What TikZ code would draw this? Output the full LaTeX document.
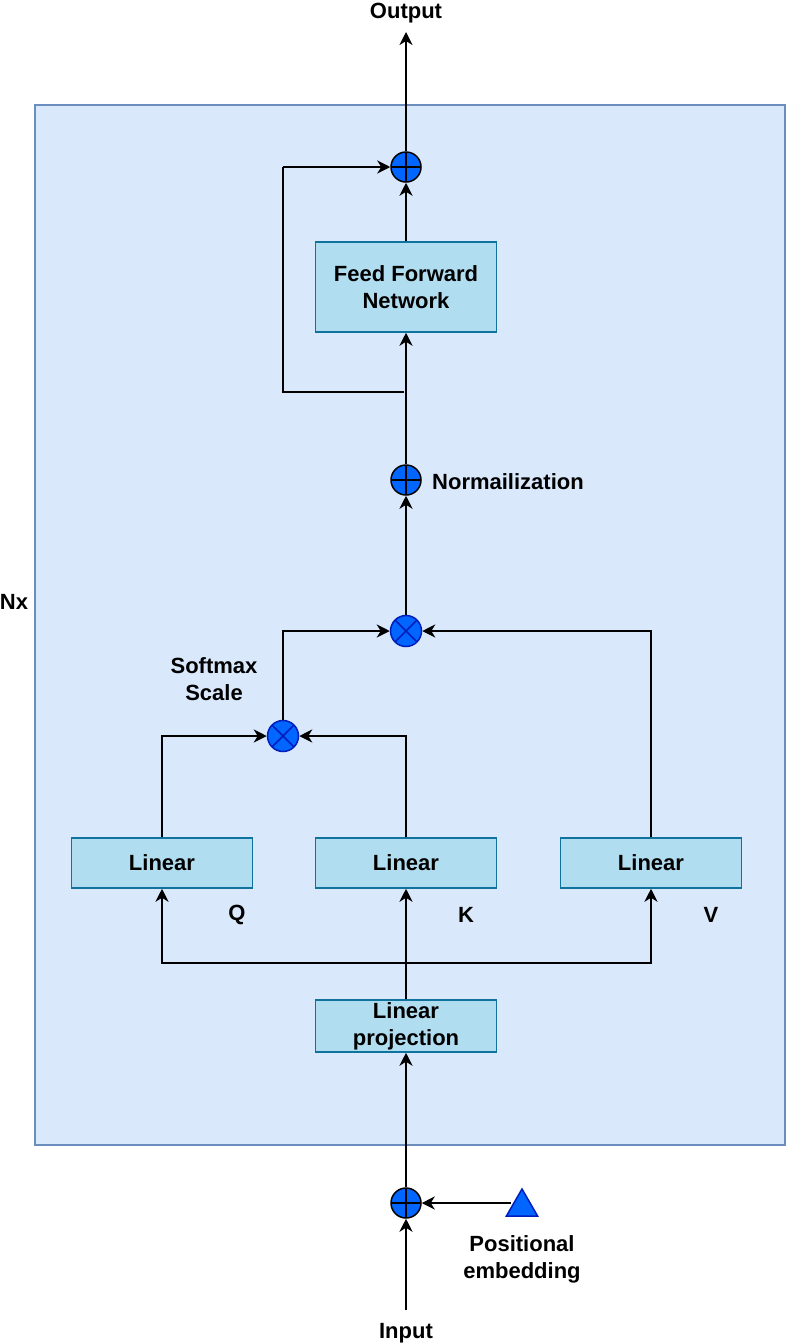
\documentclass[tikz,border=0pt]{standalone}
\usepackage{fontspec}
\setmainfont{Liberation Sans}
\usetikzlibrary{arrows.meta,shapes.geometric}
\definecolor{contfill}{HTML}{DAE8FC}
\definecolor{contdraw}{HTML}{6C8EBF}
\definecolor{boxfill}{HTML}{B1DDF0}
\definecolor{boxdraw}{HTML}{10739E}
\definecolor{opfill}{HTML}{0066FF}
\definecolor{opdraw}{HTML}{001DBC}
\tikzset{
  txt/.style={font=\fontsize{22}{27}\selectfont\bfseries, align=center, inner sep=0pt},
  lbl/.style={txt, yshift=-2pt},
  blk/.style={draw=boxdraw, fill=boxfill, line width=1.5pt, minimum width=181pt, inner sep=0pt, txt},
  plusop/.style={circle, draw=black, fill=opfill, line width=1.5pt, minimum size=30pt, inner sep=0pt,
    path picture={\draw[black, line width=1.5pt] (path picture bounding box.north) -- (path picture bounding box.south)
      (path picture bounding box.west) -- (path picture bounding box.east);}},
  mulop/.style={circle, draw=opdraw, fill=opfill, line width=1.5pt, minimum size=31pt, inner sep=0pt,
    path picture={\draw[opdraw, line width=1.5pt] (path picture bounding box.north west) -- (path picture bounding box.south east)
      (path picture bounding box.north east) -- (path picture bounding box.south west);}},
  conn/.style={line width=2pt, -{Stealth[length=13pt, width=13pt, inset=4pt]}},
  line/.style={line width=2pt},
}
\begin{document}
\begin{tikzpicture}[x=1pt,y=-1pt]
\useasboundingbox (0,0) rectangle (788,1344);
% container
\node[draw=contdraw, fill=contfill, line width=1.5pt, minimum width=750pt, minimum height=1040pt, inner sep=0pt] (cont) at (410,625) {};
\node[lbl] (nx) at (14,600) {Nx};
% blocks
\node[blk, minimum height=90pt] (ffn) at (406,287) {Feed Forward\\Network};
\node[blk, minimum height=50pt] (lq) at (162,863) {Linear};
\node[blk, minimum height=50pt] (lk) at (406,863) {Linear};
\node[blk, minimum height=50pt] (lv) at (651,863) {Linear};
\node[blk, minimum height=52pt] (proj) at (406,1026) {Linear\\projection};
% operators
\node[plusop] (addtop) at (406,167) {};
\node[plusop] (norm) at (406,480) {};
\node[plusop] (addin) at (406,1203) {};
\node[mulop] (mtop) at (406,631) {};
\node[mulop] (mlow) at (283,736) {};
\node[regular polygon, regular polygon sides=3, draw=opdraw, fill=opfill, line width=1.5pt, minimum size=36pt, inner sep=0pt] (pos) at (522,1207) {};
% labels
\node[lbl] (out) at (406,11) {Output};
\node[lbl] (inp) at (406,1331) {Input};
\node[lbl, anchor=west] (normlbl) at (432,480) {Normailization};
\node[lbl] (smx) at (214,677) {Softmax\\Scale};
\node[lbl] (q) at (237,913) {Q};
\node[lbl] (k) at (466,913) {K};
\node[lbl] (v) at (711,913) {V};
\node[lbl] (poslbl) at (522,1257) {Positional\\embedding};
% coordinates
\coordinate (inbot) at (406,1310);
\coordinate (outtop) at (406,32);
\coordinate (split) at (406,963);
\coordinate (res) at (404,392);
% connectors
\draw[conn] (inbot) -- (addin.south);
\draw[conn] (pos.west |- addin) -- (addin.east);
\draw[conn] (addin.north) -- (proj.south);
\draw[conn] (proj.north) -- (lk.south);
\draw[conn] (split) -| (lq.south);
\draw[conn] (split) -| (lv.south);
\draw[conn] (lq.north) |- (mlow.west);
\draw[conn] (lk.north) |- (mlow.east);
\draw[conn] (mlow.north) |- (mtop.west);
\draw[conn] (lv.north) |- (mtop.east);
\draw[conn] (mtop.north) -- (norm.south);
\draw[conn] (norm.north) -- (ffn.south);
\draw[line] (res) -| (283,167) coordinate (rc);
\draw[conn] (rc) -- (addtop.west);
\draw[conn] (ffn.north) -- (addtop.south);
\draw[conn] (addtop.north) -- (outtop);
\end{tikzpicture}
\end{document}
